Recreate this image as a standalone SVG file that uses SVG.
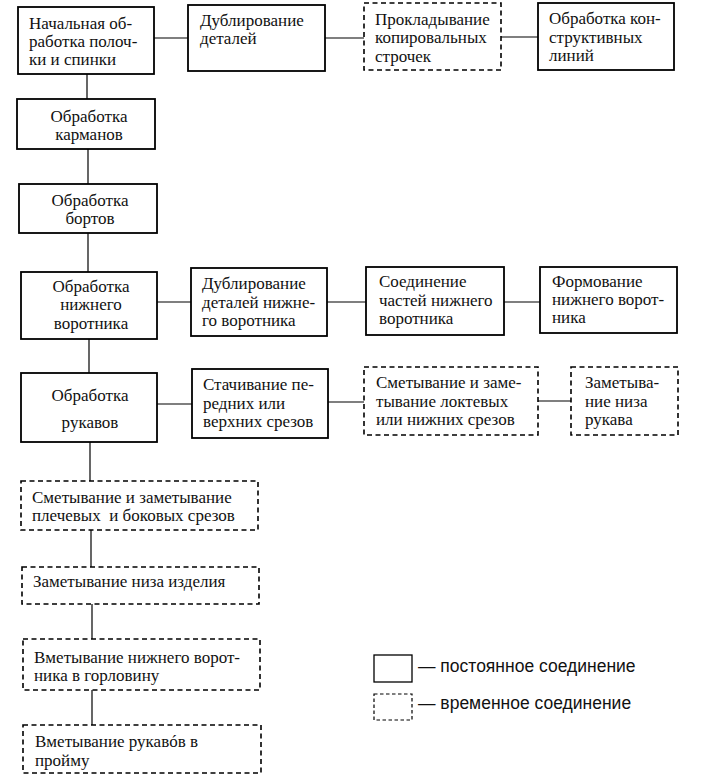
<svg xmlns="http://www.w3.org/2000/svg" width="701" height="776" viewBox="0 0 701 776">
<rect width="701" height="776" fill="#fff"/>
<g id="connectors" stroke="#000" stroke-width="1.2" fill="none">
<line x1="87" y1="74" x2="87" y2="99"/>
<line x1="88" y1="149" x2="88" y2="184"/>
<line x1="88" y1="233" x2="88" y2="272"/>
<line x1="89" y1="339" x2="89" y2="373"/>
<line x1="90" y1="442" x2="90" y2="481"/>
<line x1="91" y1="530" x2="91" y2="567"/>
<line x1="92" y1="604" x2="92" y2="639"/>
<line x1="92" y1="690" x2="92" y2="725"/>
<line x1="154" y1="38" x2="188" y2="38"/>
<line x1="325" y1="38" x2="364" y2="38"/>
<line x1="501" y1="37" x2="538" y2="37"/>
<line x1="157" y1="302" x2="191" y2="302"/>
<line x1="327" y1="302" x2="366" y2="302"/>
<line x1="504" y1="302" x2="540" y2="302"/>
<line x1="157" y1="404" x2="192" y2="404"/>
<line x1="328" y1="402" x2="364" y2="402"/>
<line x1="538" y1="401" x2="571" y2="401"/>
</g>
<g font-family="Liberation Serif" font-size="17" fill="#111">
<g id="n1"><rect x="18" y="7" width="136" height="67" fill="#fff" stroke="#000" stroke-width="1.8"/>
<text x="29" y="29">Начальная об-</text><text x="29" y="47">работка полоч-</text><text x="29" y="65">ки и спинки</text></g>
<g id="n2"><rect x="188" y="5" width="137" height="66" fill="#fff" stroke="#000" stroke-width="1.8"/>
<text x="200" y="26">Дублирование</text><text x="200" y="44">деталей</text></g>
<g id="n3"><rect x="364" y="3" width="137" height="67" fill="#fff" stroke="#000" stroke-width="1.6" stroke-dasharray="5 3.5"/>
<text x="375" y="25">Прокладывание</text><text x="375" y="43">копировальных</text><text x="375" y="62">строчек</text></g>
<g id="n4"><rect x="538" y="3" width="136" height="67" fill="#fff" stroke="#000" stroke-width="1.8"/>
<text x="549" y="24">Обработка кон-</text><text x="549" y="43">структивных</text><text x="549" y="61">линий</text></g>
<g id="n5"><rect x="17" y="99" width="138" height="50" fill="#fff" stroke="#000" stroke-width="1.8"/>
<text x="89" y="122" text-anchor="middle">Обработка</text><text x="89" y="140" text-anchor="middle">карманов</text></g>
<g id="n6"><rect x="19" y="184" width="138" height="49" fill="#fff" stroke="#000" stroke-width="1.8"/>
<text x="90" y="206" text-anchor="middle">Обработка</text><text x="90" y="224" text-anchor="middle">бортов</text></g>
<g id="n7"><rect x="21" y="272" width="136" height="67" fill="#fff" stroke="#000" stroke-width="1.8"/>
<text x="91" y="292" text-anchor="middle">Обработка</text><text x="91" y="310" text-anchor="middle">нижнего</text><text x="91" y="329" text-anchor="middle">воротника</text></g>
<g id="n8"><rect x="191" y="268" width="136" height="68" fill="#fff" stroke="#000" stroke-width="1.8"/>
<text x="202" y="289">Дублирование</text><text x="202" y="308">деталей нижне-</text><text x="202" y="326">го воротника</text></g>
<g id="n9"><rect x="366" y="267" width="138" height="68" fill="#fff" stroke="#000" stroke-width="1.8"/>
<text x="379" y="287">Соединение</text><text x="379" y="306">частей нижнего</text><text x="379" y="324">воротника</text></g>
<g id="n10"><rect x="540" y="267" width="137" height="66" fill="#fff" stroke="#000" stroke-width="1.8"/>
<text x="552" y="287">Формование</text><text x="552" y="305">нижнего ворот-</text><text x="552" y="323">ника</text></g>
<g id="n11"><rect x="21" y="373" width="136" height="69" fill="#fff" stroke="#000" stroke-width="1.8"/>
<text x="90" y="401" text-anchor="middle">Обработка</text><text x="90" y="428" text-anchor="middle">рукавов</text></g>
<g id="n12"><rect x="192" y="369" width="136" height="69" fill="#fff" stroke="#000" stroke-width="1.8"/>
<text x="203" y="390">Стачивание пе-</text><text x="203" y="409">редних или</text><text x="203" y="427">верхних срезов</text></g>
<g id="n13"><rect x="364" y="367" width="174" height="68" fill="#fff" stroke="#000" stroke-width="1.6" stroke-dasharray="5 3.5"/>
<text x="376" y="388">Сметывание и заме-</text><text x="376" y="407">тывание локтевых</text><text x="376" y="425">или нижних срезов</text></g>
<g id="n14"><rect x="571" y="367" width="107" height="68" fill="#fff" stroke="#000" stroke-width="1.6" stroke-dasharray="5 3.5"/>
<text x="585" y="388">Заметыва-</text><text x="585" y="407">ние низа</text><text x="585" y="425">рукава</text></g>
<g id="n15"><rect x="21" y="481" width="237" height="49" fill="#fff" stroke="#000" stroke-width="1.6" stroke-dasharray="5 3.5"/>
<text x="32" y="503">Сметывание и заметывание</text><text x="32" y="521" xml:space="preserve">плечевых  и боковых срезов</text></g>
<g id="n16"><rect x="22" y="567" width="237" height="37" fill="#fff" stroke="#000" stroke-width="1.6" stroke-dasharray="5 3.5"/>
<text x="33" y="587">Заметывание низа изделия</text></g>
<g id="n17"><rect x="23" y="639" width="237" height="51" fill="#fff" stroke="#000" stroke-width="1.6" stroke-dasharray="5 3.5"/>
<text x="34" y="663">Вметывание нижнего ворот-</text><text x="34" y="681">ника в горловину</text></g>
<g id="n18"><rect x="23" y="725" width="238" height="48" fill="#fff" stroke="#000" stroke-width="1.6" stroke-dasharray="5 3.5"/>
<text x="35" y="747">Вметывание рукавóв в</text><text x="35" y="766">пройму</text></g>
</g>
<g id="legend" font-family="Liberation Sans" font-size="17.5" fill="#111">
<rect x="374" y="655" width="38" height="27" fill="#fff" stroke="#000" stroke-width="1.3"/>
<text x="418" y="672">— постоянное соединение</text>
<rect x="374" y="694" width="38" height="26" fill="#fff" stroke="#000" stroke-width="1.2" stroke-dasharray="3.5 2.5"/>
<text x="418" y="709">— временное соединение</text>
</g>
</svg>
